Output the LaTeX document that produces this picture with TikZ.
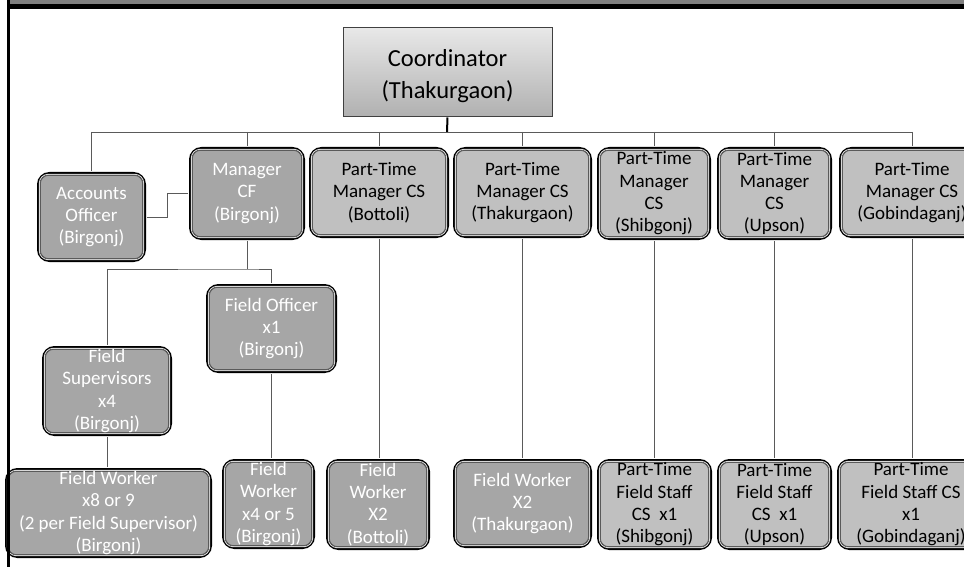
\documentclass[tikz,border=0pt]{standalone}
\usepackage{fontspec}
\setmainfont{Carlito}
\usetikzlibrary{calc}
\definecolor{dk}{HTML}{A6A6A6}
\definecolor{lt}{HTML}{C0C0C0}
\definecolor{ln}{HTML}{5A5A5A}
\definecolor{inl}{HTML}{5A5A5A}
\definecolor{bar}{HTML}{808080}
\tikzset{
 boxbase/.style={draw=black, line width=2.8pt, rounded corners=11pt, inner sep=0pt},
 darkbox/.style={boxbase, fill=dk},
 lightbox/.style={boxbase, fill=lt},
 innerline/.style={draw=inl, line width=0.8pt, rounded corners=8pt},
 gapline/.style={draw=white!85!black, line width=1pt, rounded corners=9pt},
 wtxt/.style={text=white, align=center, font=\fontsize{19}{22.3}\selectfont, inner sep=0pt},
 btxt/.style={wtxt, text=black},
 conn/.style={draw=ln, line width=0.9pt},
 coordbox/.style={draw=black!75, line width=1pt, top color=black!9, bottom color=black!31,
   minimum width=209, minimum height=89},
 coordtxt/.style={align=center, font=\fontsize{24.5}{31.5}\selectfont, inner sep=0pt},
}
\newcommand\obox[8]{%
 \node[#6, minimum width={#4-#2-2.8}, minimum height={#5-#3-2.8}] (#1) at ({(#2+#4)/2},{(#3+#5)/2}) {};
 \draw[gapline] ($(#1.south west)+(2.3,-2.3)$) rectangle ($(#1.north east)+(-2.3,2.3)$);
 \draw[innerline] ($(#1.south west)+(3.4,-3.4)$) rectangle ($(#1.north east)+(-3.4,3.4)$);
 \node[#7] (#1-t) at (#1.center) {#8};
}
\begin{document}
\begin{tikzpicture}[x=1pt, y=-1pt]
\useasboundingbox (0,0) rectangle (964,567);
\fill[white] (0,0) rectangle (964,567);
% top bars
\fill[bar] (10,0) rectangle (964,4);
\fill[black] (7,4) rectangle (964,9);

% coordinator
\node[coordbox] (co) at (447.5,72.5) {};
\node[coordtxt] (co-t) at (447.5,76) {Coordinator\\(Thakurgaon)};
\coordinate (bus) at (447,132);
\coordinate (mbus) at (247,269);
\coordinate (elbow) at (167,0);

% boxes
\obox{ao}{37}{172}{146}{262}{darkbox}{wtxt}{Accounts\\Officer\\(Birgonj)}
\obox{mcf}{189}{147}{305}{240}{darkbox}{wtxt}{Manager\\CF\\(Birgonj)}
\obox{pb}{309}{147}{449}{238}{lightbox}{btxt}{Part-Time\\Manager CS\\(Bottoli)}
\obox{pt}{453}{147}{592}{238}{lightbox}{btxt}{Part-Time\\Manager CS\\(Thakurgaon)}
\obox{ps}{597}{147}{711}{240}{lightbox}{btxt}{Part-Time\\Manager\\CS\\(Shibgonj)}
\obox{pu}{717}{147}{832}{240}{lightbox}{btxt}{Part-Time\\Manager\\CS\\(Upson)}
\obox{pg}{839}{147}{985}{238}{lightbox}{btxt}{Part-Time\\Manager CS\\(Gobindaganj)}
\obox{fo}{206}{284}{337}{373}{darkbox}{wtxt}{Field Officer\\x1\\(Birgonj)}
\obox{fs}{42}{346}{172}{436}{darkbox}{wtxt}{Field\\Supervisors\\x4\\(Birgonj)}
\obox{fw8}{5}{468}{212}{558}{darkbox}{wtxt}{Field Worker\\x8 or 9\\(2 per Field Supervisor)\\(Birgonj)}
\obox{fw4}{222}{459}{315}{549}{darkbox}{wtxt}{Field\\Worker\\x4 or 5\\(Birgonj)}
\obox{fwb}{326}{459}{430}{550}{darkbox}{wtxt}{Field\\Worker\\X2\\(Bottoli)}
\obox{fwt}{453}{459}{592}{548}{darkbox}{wtxt}{Field Worker\\X2\\(Thakurgaon)}
\obox{fss}{597}{459}{712}{550}{lightbox}{btxt}{Part-Time\\Field Staff\\CS~~x1\\(Shibgonj)}
\obox{fsu}{717}{459}{832}{550}{lightbox}{btxt}{Part-Time\\Field Staff\\CS~~x1\\(Upson)}
\obox{fsg}{837}{459}{985}{550}{lightbox}{btxt}{Part-Time\\Field Staff CS\\x1\\(Gobindaganj)}

% connectors
\draw[line width=2pt, black] (co.south) -- (bus);
\draw[conn] (ao.north |- bus) -- (pg.north |- bus);
\foreach \n in {ao,mcf,pb,pt,ps,pu,pg} {
  \draw[conn] (\n.north |- bus) -- ([yshift=1.4pt]\n.north);
}
\draw[conn] ([xshift=1.4pt]ao.east) -- (ao.east -| elbow) |- ([xshift=-1.4pt]mcf.west);
\draw[conn] ([yshift=-1.4pt]mcf.south) -- (mbus);
\draw[conn] ([yshift=1.4pt]fs.north) |- (mbus) -| ([yshift=1.4pt]fo.north);
\draw[conn] ([yshift=-1.4pt]fs.south) -- ([yshift=1.4pt]fs.south |- fw8.north);
\draw[conn] ([yshift=-1.4pt]fo.south) -- ([yshift=1.4pt]fo.south |- fw4.north);
\draw[conn] ([yshift=-1.4pt]pb.south) -- ([yshift=1.4pt]pb.south |- fwb.north);
\draw[conn] ([yshift=-1.4pt]pt.south) -- ([yshift=1.4pt]pt.south |- fwt.north);
\draw[conn] ([yshift=-1.4pt]ps.south) -- ([yshift=1.4pt]ps.south |- fss.north);
\draw[conn] ([yshift=-1.4pt]pu.south) -- ([yshift=1.4pt]pu.south |- fsu.north);
\draw[conn] ([yshift=-1.4pt]pg.south) -- ([yshift=1.4pt]pg.south |- fsg.north);

% left border
\fill[black] (7,0) rectangle (9.5,567);
\end{tikzpicture}
\end{document}
